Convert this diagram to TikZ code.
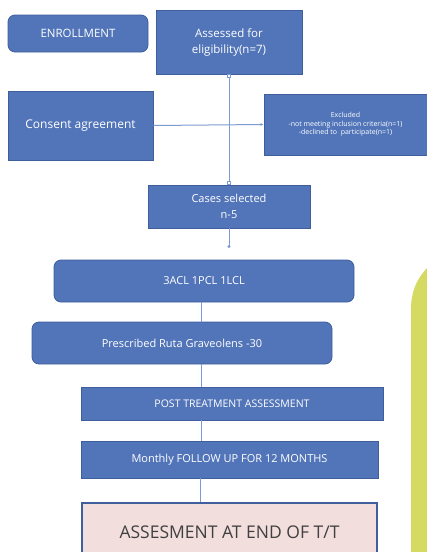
\documentclass[tikz,border=0pt]{standalone}
\usepackage{fontspec}
\setmainfont{Open Sans}
\usetikzlibrary{arrows.meta,calc,positioning}
\definecolor{boxblue}{HTML}{5275B9}
\definecolor{boxedge}{HTML}{3E5E9C}
\definecolor{linkblue}{HTML}{7C9BD2}
\definecolor{endpink}{HTML}{F2DEDD}
\definecolor{leafgreen}{HTML}{D5DA62}

\begin{document}
\begin{tikzpicture}[x=1pt,y=-1pt,>=Latex,
  flowbox/.style={draw=boxedge,fill=boxblue,text=white,line width=0.8pt,inner sep=2pt,align=center,font=\fontsize{11}{14}\selectfont},
  roundbox/.style={flowbox,rounded corners=7pt},
  link/.style={draw=linkblue,line width=1pt}]
  \useasboundingbox (0,0) rectangle (427,552);
  % side shape
  \fill[leafgreen] (427,268) .. controls (416,280) and (411,292) .. (411,310) -- (411,552) -- (427,552) -- cycle;
  % top part
  \node[roundbox,minimum width=140,minimum height=37,font=\fontsize{11.5}{14}\selectfont] (enroll) at (78,33.5) {ENROLLMENT};
  \node[flowbox,minimum width=146,minimum height=64,font=\fontsize{11.5}{16}\selectfont] (assess) at (229,42) {Assessed for\\eligibility(n=7)};
  \node[flowbox,minimum width=145,minimum height=69,font=\fontsize{12}{15}\selectfont] (consent) at (80.5,125.5) {Consent agreement};
  \node[flowbox,minimum width=163,minimum height=61,font=\fontsize{7}{8.5}\selectfont] (excl) at (345.5,124.5) {Excluded\\-not meeting inclusion criteria(n=1)\\-declined to\ \ participate(n=1)};
  \node[flowbox,minimum width=162,minimum height=43,font=\fontsize{11}{16}\selectfont] (cases) at (229,206.5) {Cases selected\\n-5};
  \draw[link,{Square[open,length=4pt,width=4pt]}-{Square[open,length=4pt,width=4pt]}] (assess.south) -- (cases.north);
  \draw[link,-{Latex[length=3pt,width=3pt]}] (consent.east) -- (excl.west);
  \draw[link,-{Circle[length=3pt]}] (cases.south) -- (229,248);
  % treatment part
  \node[roundbox,minimum width=300,minimum height=42] (acl) at (204,281) {3ACL 1PCL 1LCL};
  \node[roundbox,minimum width=300,minimum height=42] (presc) at (182,343) {Prescribed Ruta Graveolens -30};
  \node[flowbox,minimum width=302,minimum height=33,font=\fontsize{10.5}{13}\selectfont] (post) at (232,403.5) {POST TREATMENT ASSESSMENT};
  \node[flowbox,minimum width=297,minimum height=37] (month) at (229.5,459.5) {Monthly FOLLOW UP FOR 12 MONTHS};
  \node[flowbox,fill=endpink,text=black!75,line width=1.6pt,minimum width=295,minimum height=58,font=\fontsize{17.5}{20}\selectfont] (final) at (229.5,532) {ASSESMENT AT END OF T/T};
  \coordinate (j1) at ($(acl.south)+(-3,0)$);
  \coordinate (j2) at ($(presc.south)+(19,0)$);
  \coordinate (j3) at ($(post.south)+(-31,0)$);
  \coordinate (j4) at ($(month.south)+(-29,0)$);
  \draw[link] (j1) -- (j1 |- presc.north);
  \draw[link] (j2) -- (j2 |- post.north);
  \draw[link] (j3) -- (j3 |- month.north);
  \draw[link] (j4) -- (j4 |- final.north);
\end{tikzpicture}
\end{document}
